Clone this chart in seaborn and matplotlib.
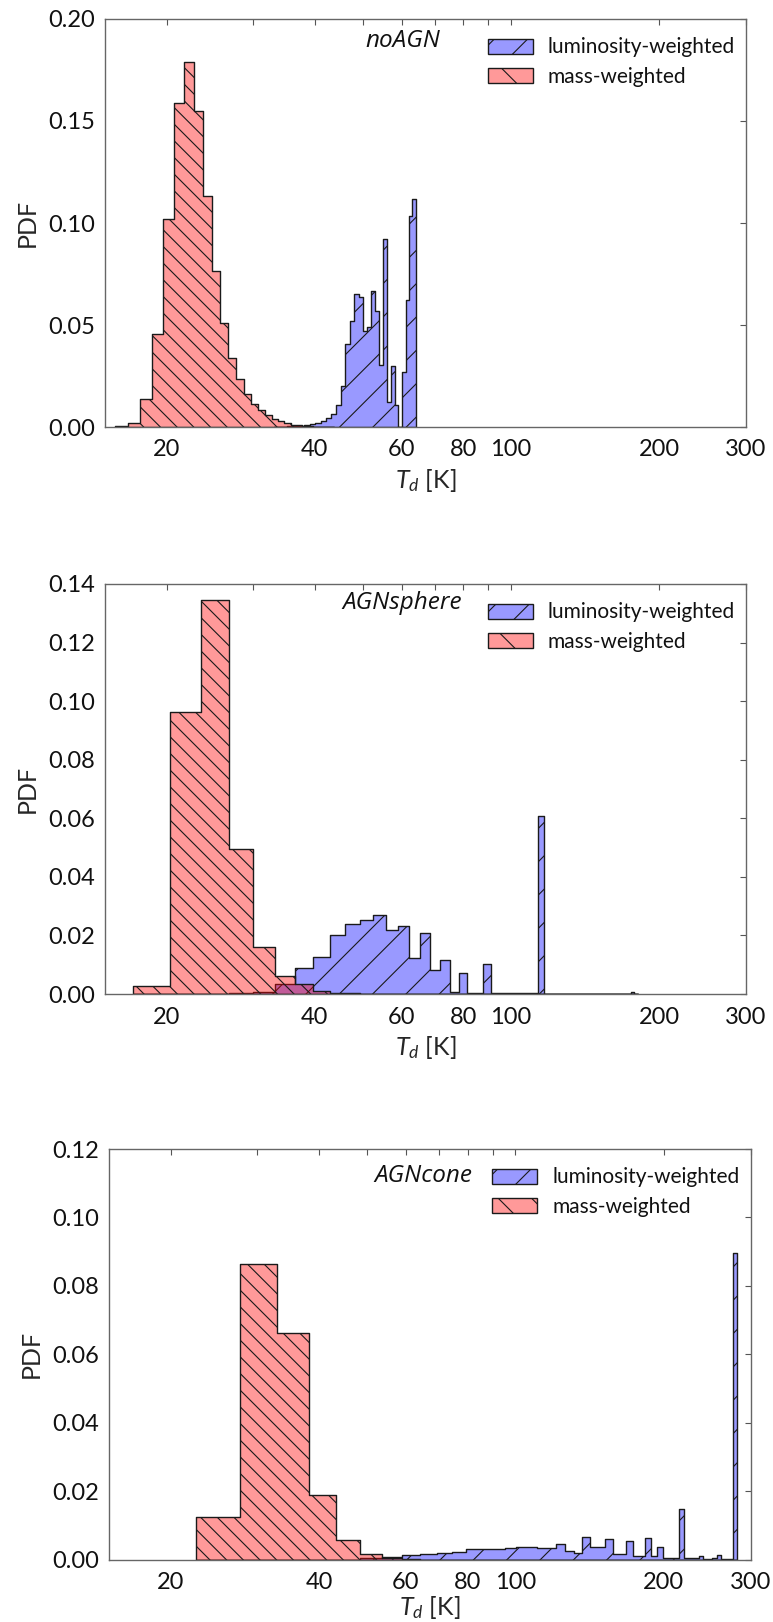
import numpy as np
import matplotlib
matplotlib.use("Agg")
import matplotlib.pyplot as plt
import matplotlib.patches as mpatches
from matplotlib.ticker import FixedLocator, FixedFormatter, NullLocator, FormatStrFormatter
import seaborn as sns

# ---------------- data ----------------
# Panel 1: noAGN (1 K wide linear bins)
noagn_mass_edges = [15.7, 16.7, 17.7, 18.7, 19.7, 20.7, 21.7, 22.7, 23.7, 24.7, 25.7, 26.7, 27.7, 28.7,
                    29.7, 30.7, 31.7, 32.7, 33.7, 34.7, 35.7, 36.7, 37.7, 38.7, 39.7, 40.7, 41.7, 42.7, 43.7]
noagn_mass_pdf = [0.0003, 0.0021, 0.0136, 0.0454, 0.1018, 0.1587, 0.1791, 0.1549, 0.1132, 0.0765,
                  0.0508, 0.0340, 0.0234, 0.0160, 0.0114, 0.0083, 0.0059, 0.0041, 0.0028, 0.0018,
                  0.0012, 0.0008, 0.0005, 0.0003, 0.0002, 0.0001, 0.0001, 0.00005]
noagn_lum_edges = [33.1, 34.1, 35.1, 36.1, 37.1, 38.1, 39.1, 40.1, 41.1, 42.1, 43.1, 44.1, 45.1, 46.1,
                   47.1, 48.1, 49.1, 50.1, 51.1, 52.1, 53.1, 54.1, 55.1, 56.1, 57.1, 58.1, 59.1, 60.1,
                   61.1, 62.1, 63.1, 64.1]
noagn_lum_pdf = [0.0001, 0.0002, 0.0003, 0.0005, 0.0007, 0.0010, 0.0015, 0.0022, 0.0030, 0.0045,
                 0.0065, 0.0110, 0.0200, 0.0408, 0.0521, 0.0650, 0.0636, 0.0470, 0.0492, 0.0665,
                 0.0569, 0.0305, 0.0923, 0.0124, 0.0297, 0.0108, 0.0, 0.0272, 0.0624, 0.1034, 0.1116]

# Panel 2: AGNsphere (3.22 K wide bins)
sphere_edges = [17.10, 20.32, 23.54, 26.76, 29.98, 33.20, 36.42, 39.64, 42.86, 46.08, 49.30, 52.52,
                55.74, 58.96, 62.18, 65.40, 68.62, 71.84, 75.06, 78.28, 81.50, 84.72, 87.94, 91.16,
                94.38, 97.60, 100.82, 104.04, 107.26, 110.48, 113.70, 116.92, 120.14, 123.36, 126.58,
                129.80, 133.02, 136.24, 139.46, 142.68, 145.90, 149.12, 152.34, 155.56, 158.78, 162.00,
                165.22, 168.44, 171.66, 174.88, 178.10, 181.32]
sphere_mass_pdf = [0.0026, 0.0963, 0.1347, 0.0495, 0.0160, 0.0060, 0.0035, 0.0010, 0.0004, 0.0002,
                   0.0001] + [0.0] * 40
sphere_lum_pdf = [0.0, 0.0, 0.00005, 0.0002, 0.0008, 0.0035, 0.0088, 0.0127, 0.0201, 0.0239, 0.0253,
                  0.0270, 0.0218, 0.0233, 0.0122, 0.0207, 0.0082, 0.0116, 0.0008, 0.0073, 0.0005,
                  0.0002, 0.0102, 0.0003, 0.0002, 0.0002, 0.0002, 0.0002, 0.0002, 0.0003, 0.0609,
                  0.0001, 0.0001, 0.0001, 0.0001, 0.0001, 0.0001, 0.0001, 0.0001, 0.0001, 0.0001,
                  0.0001, 0.0001, 0.0001, 0.0001, 0.0001, 0.0001, 0.0001, 0.0001, 0.0008, 0.0001]

# Panel 3: AGNcone (5.19 K wide bins)
cone_edges = [22.50, 27.69, 32.88, 38.07, 43.26, 48.45, 53.64, 58.83, 64.02, 69.21, 74.40, 79.59,
              84.78, 89.97, 95.16, 100.35, 105.54, 110.73, 115.92, 121.11, 126.30, 131.49, 136.68,
              141.87, 147.06, 152.25, 157.44, 162.63, 167.82, 173.01, 178.20, 183.39, 188.58, 193.77,
              198.96, 204.15, 209.34, 214.53, 219.72, 224.91, 230.10, 235.29, 240.48, 245.67, 250.86,
              256.05, 261.24, 266.43, 271.62, 276.81, 282.00]
cone_mass_pdf = [0.01255, 0.0865, 0.0661, 0.0189, 0.0056, 0.0015, 0.0005, 0.0002] + [0.0] * 42
cone_lum_pdf = [0.0, 0.0, 0.0, 0.0, 0.0, 0.0003, 0.0008, 0.0012, 0.0016, 0.0019, 0.0023, 0.0030,
                0.0030, 0.0032, 0.0035, 0.0038, 0.0038, 0.0033, 0.0035, 0.0046, 0.0025, 0.0020,
                0.0067, 0.0036, 0.0036, 0.0059, 0.0015, 0.0015, 0.0054, 0.0010, 0.0010, 0.0062,
                0.0010, 0.0038, 0.0005, 0.0005, 0.0004, 0.0147, 0.0003, 0.0003, 0.0003, 0.0010,
                0.0002, 0.0002, 0.0003, 0.0012, 0.0002, 0.0002, 0.0002, 0.0895]

panel_names = ["noAGN", "AGNsphere", "AGNcone"]
series_labels = ["luminosity-weighted", "mass-weighted"]
x_tick_values = [20, 30, 40, 50, 60, 70, 80, 90, 100, 200, 300]
x_tick_labels = ["20", "", "40", "", "60", "", "80", "", "100", "200", "300"]
y_max = [0.20, 0.14, 0.12]
y_step = [0.05, 0.02, 0.02]

# ---------------- style ----------------
sns.set_style("white")
plt.rcParams['font.family'] = ['Lato', 'DejaVu Sans']
plt.rcParams['mathtext.fontset'] = 'custom'
plt.rcParams['mathtext.it'] = 'Lato:italic'
plt.rcParams['mathtext.rm'] = 'Lato'
plt.rcParams['hatch.linewidth'] = 0.8
plt.rcParams['text.color'] = '#111111'

BLUE_FACE = (0.0, 0.0, 1.0, 0.4)
RED_FACE = (1.0, 0.0, 0.0, 0.4)
EDGE = (0.1, 0.1, 0.1, 1.0)
BLUE_HATCH = '/'
RED_HATCH = '\\\\'

W, H = 773, 1622
fig = plt.figure(figsize=(W / 100, H / 100), dpi=100)


def rect(l, r, t, b):
    return [l / W, 1 - b / H, (r - l) / W, (b - t) / H]


boxes = [rect(105, 746, 19, 427), rect(105, 746, 584, 994), rect(109, 750.7, 1149, 1559.5)]
text_pos = [(0.464, 0.947), (0.464, 0.954), (0.49, 0.935)]
xlabel_y = [-0.13, -0.13, -0.116]

data = [
    (noagn_lum_edges, noagn_lum_pdf, noagn_mass_edges, noagn_mass_pdf),
    (sphere_edges, sphere_lum_pdf, sphere_edges, sphere_mass_pdf),
    (cone_edges, cone_lum_pdf, cone_edges, cone_mass_pdf),
]

for i, (le, lp, me, mp) in enumerate(data):
    ax = fig.add_axes(boxes[i])
    for edges, pdf, face, hatch in [(le, lp, BLUE_FACE, BLUE_HATCH), (me, mp, RED_FACE, RED_HATCH)]:
        e = np.asarray(edges, dtype=float)
        centers = list(np.sqrt(e[:-1] * e[1:]))
        sns.histplot(x=centers, weights=list(pdf), bins=[float(v) for v in np.log10(e)],
                     log_scale=True, element="step", fill=True, stat="count", ax=ax,
                     facecolor=face, edgecolor=EDGE, linewidth=1.0, hatch=hatch)
    ax.set_xlim(15, 300)
    ax.set_ylim(0, y_max[i])
    ax.xaxis.set_major_locator(FixedLocator(x_tick_values))
    ax.xaxis.set_major_formatter(FixedFormatter(x_tick_labels))
    ax.xaxis.set_minor_locator(NullLocator())
    ax.set_yticks(np.arange(0, y_max[i] + 1e-9, y_step[i]))
    ax.yaxis.set_major_formatter(FormatStrFormatter('%.2f'))
    ax.yaxis.set_minor_locator(NullLocator())
    ax.tick_params(which='both', direction='in', top=True, right=True, length=4, width=0.8,
                   color='#555555', labelsize=17, labelcolor='#111111')
    ax.tick_params(axis='x', pad=9)
    ax.tick_params(axis='y', pad=7)
    for s in ax.spines.values():
        s.set_color('#666666')
        s.set_linewidth(1.0)
    ax.set_xlabel(r'$T_d$ [K]', fontsize=18)
    ax.set_ylabel('PDF', fontsize=18)
    ax.xaxis.set_label_coords(0.5, xlabel_y[i])
    ax.xaxis.label.set_va('center')
    ax.yaxis.set_label_coords(-0.121, 0.5)
    ax.yaxis.label.set_va('center')
    ax.text(text_pos[i][0], text_pos[i][1], panel_names[i], transform=ax.transAxes,
            family=['Open Sans', 'DejaVu Sans'], style='italic', fontsize=17.5,
            ha='center', va='center')
    handles = [mpatches.Patch(facecolor=BLUE_FACE, edgecolor=EDGE, hatch='/', linewidth=1.0),
               mpatches.Patch(facecolor=RED_FACE, edgecolor=EDGE, hatch='\\', linewidth=1.0)]
    ax.legend(handles, series_labels, loc='upper left', bbox_to_anchor=(0.5975, 0.955),
              frameon=False, fontsize=15, borderpad=0, borderaxespad=0, handlelength=2.16,
              handleheight=0.72, handletextpad=0.72, labelspacing=0.45)

fig.savefig("out.png", dpi=100)
